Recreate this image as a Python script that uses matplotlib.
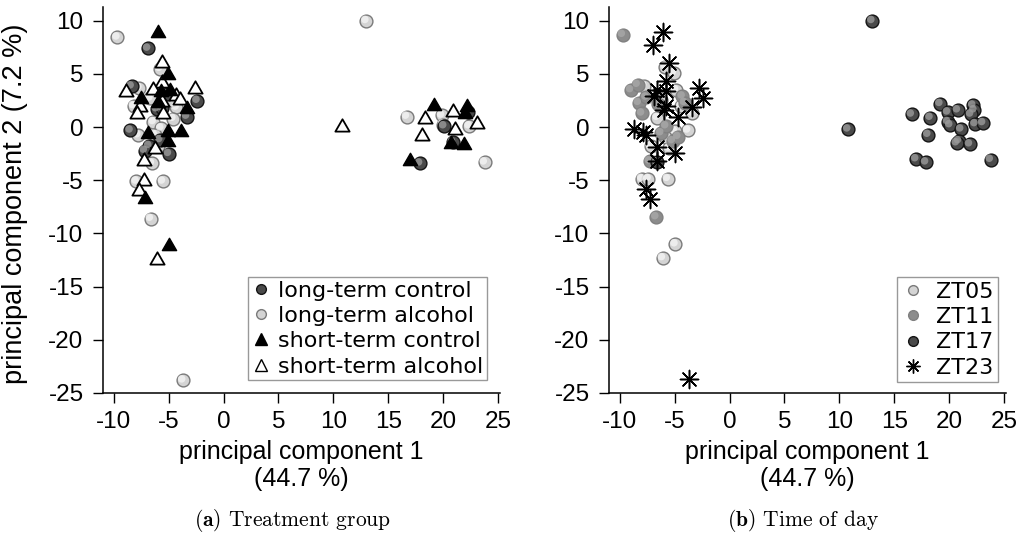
import numpy as np
import matplotlib
matplotlib.use("Agg")
import matplotlib.pyplot as plt
from matplotlib.lines import Line2D
from matplotlib.path import Path
from matplotlib.transforms import offset_copy

plt.rcParams['font.family'] = ['Liberation Sans', 'DejaVu Sans']
plt.rcParams['axes.unicode_minus'] = False
plt.rcParams['mathtext.fontset'] = 'cm'

### data ###

# (a) treatment group
lt_ctrl_x = [-6.9, -8.4, -2.4, -5.1, -6.1, -5.6, -3.35, -8.5, -5.8, -6.8, -7.2, -5.0, 20.1, 22.3, 20.9, 17.9]
lt_ctrl_y = [7.4, 3.85, 2.5, 3.1, 1.7, 1.8, 1.0, -0.3, -1.2, -1.75, -2.2, -2.5, 0.1, 1.4, -1.4, -3.4]

lt_alc_x = [-9.7, -5.8, -7.7, -6.7, -8.2, -4.3, -4.6, -6.4, -5.7, -7.8, -6.3, -5.95, -6.55, -7.95, -5.55,
            -6.65, -3.7, -4.8, 16.7, 19.9, 20.0, 22.4, 23.8, 13.0]
lt_alc_y = [8.45, 5.5, 3.7, 2.7, 2.0, 1.85, 0.8, 0.5, -0.1, -0.75, -0.7, -1.8, -3.4, -5.1, -5.1,
            -8.6, -23.8, 2.6, 1.0, 1.1, 0.25, 0.1, -3.3, 10.0]

st_ctrl_x = [-5.95, -5.05, -7.5, -5.7, -4.9, -6.0, -3.35, -6.9, -5.05, -3.9, -5.05, -7.15, -4.95,
             19.2, 22.2, 22.0, 20.7, 21.9, 17.0]
st_ctrl_y = [8.9, 4.9, 2.65, 3.3, 3.4, 2.3, 1.7, -0.6, -0.5, -0.5, -1.4, -6.8, -11.2,
             2.0, 1.9, 1.2, -1.6, -1.7, -3.15]

st_alc_x = [-5.65, -5.65, -8.9, -2.6, -6.4, -4.3, -7.6, -5.65, -4.0, -7.9, -5.5, -6.25, -7.3, -7.3,
            -7.7, -6.05, 18.35, 20.9, 23.1, 21.1, 18.1, 10.8]
st_alc_y = [6.0, 4.15, 3.35, 3.6, 3.45, 2.9, 1.9, 2.4, 2.6, 1.2, 1.2, -2.1, -3.2, -5.1,
            -6.0, -12.5, 0.8, 1.4, 0.3, -0.3, -0.8, 0.0]

# (b) time of day
zt05_x = [-5.85, -5.1, -7.8, -4.9, -6.6, -3.8, -5.0, -7.2, -5.5, -8.0, -7.4, -5.65, -4.95, -6.1,
          -3.4, -4.4, -5.9, -6.3]
zt05_y = [5.7, 5.1, 3.9, 3.5, 0.9, -0.3, -0.4, -1.8, -2.0, -4.85, -4.85, -4.85, -11.0, -12.3,
          1.3, 2.0, -0.9, 2.6]

zt11_x = [-9.75, -9.0, -8.4, -8.3, -7.6, -8.0, -4.3, -4.1, -6.25, -5.8, -7.3, -6.7, -5.2, -6.5, -4.7]
zt11_y = [8.7, 3.5, 4.0, 2.3, 2.8, 1.3, 2.9, 2.3, -0.55, 0.1, -3.2, -8.45, -1.3, 2.2, -0.9]

zt17_x = [19.2, 16.6, 18.3, 19.9, 20.8, 19.9, 20.1, 22.2, 22.3, 22.0, 22.4, 23.1, 21.1, 18.1,
          20.9, 20.7, 21.9, 17.0, 17.9, 23.8, 10.8, 13.0, -6.65]
zt17_y = [2.2, 1.2, 0.9, 1.4, 1.6, 0.5, 0.2, 2.05, 1.6, 1.2, 0.3, 0.4, -0.2, -0.7,
          -1.3, -1.5, -1.6, -3.0, -3.3, -3.05, -0.2, 10.0, -3.3]

zt23_x = [-6.1, -7.0, -5.55, -5.8, -6.6, -6.9, -5.8, -2.75, -2.45, -3.4, -5.8, -5.95, -4.7,
          -8.7, -7.9, -7.6, -6.6, -5.0, -6.65, -7.6, -7.25, -3.75]
zt23_y = [8.95, 7.7, 6.0, 4.3, 3.5, 2.9, 3.4, 3.7, 2.75, 1.9, 1.96, 1.65, 0.96,
          -0.2, -0.5, -0.7, -1.9, -2.4, -3.2, -5.8, -6.75, -23.7]

xticks = [-10, -5, 0, 5, 10, 15, 20, 25]
yticks = [10, 5, 0, -5, -10, -15, -20, -25]

# colours of the shaded balls: (face, edge, highlight)
DARK = ('#4a4a4a', '#141414', '#9a9a9a')
LIGHT = ('#d4d4d4', '#7a7a7a', '#f4f4f4')
MID = ('#8c8c8c', '#808080', '#a8a8a8')

tri = Path([(0, 1.155), (-1, -0.577), (1, -0.577), (0, 1.155)],
           [Path.MOVETO, Path.LINETO, Path.LINETO, Path.CLOSEPOLY])

fig = plt.figure(figsize=(10.2, 5.51), dpi=100)
axA = fig.add_axes([103/1020, 1 - 393/551, 397/1020, 386/551])
axB = fig.add_axes([609/1020, 1 - 393/551, 397/1020, 386/551])


def balls(ax, xs, ys, col, s=85, z=3):
    face, edge, hi = col
    ax.scatter(xs, ys, s=s, c=face, edgecolors=edge, linewidths=1.0, zorder=z)
    tr = offset_copy(ax.transData, fig=fig, x=-1.0, y=1.0, units='points')
    ax.scatter(xs, ys, s=s*0.35, c=hi, edgecolors='none', zorder=z, transform=tr, alpha=0.8)


def style(ax):
    ax.set_xlim(-11, 25.2)
    ax.set_ylim(-25, 11.3)
    for side in ['top', 'right']:
        ax.spines[side].set_visible(False)
    ax.spines['left'].set_linewidth(1.1)
    ax.spines['bottom'].set_linewidth(1.1)
    ax.set_xticks(xticks)
    ax.set_yticks(yticks)
    ax.tick_params(direction='out', length=7, width=1.0, labelsize=17.5)
    ax.tick_params(axis='x', pad=6)
    ax.tick_params(axis='y', pad=7)
    ax.set_xlabel('principal component 1\n(44.7 %)', fontsize=18, linespacing=1.15, labelpad=5)


# panel (a)
balls(axA, lt_alc_x, lt_alc_y, LIGHT, z=3)
balls(axA, lt_ctrl_x, lt_ctrl_y, DARK, z=4)
axA.scatter(st_alc_x, st_alc_y, s=140, marker=tri, facecolors='white', edgecolors='black', linewidths=1.3, zorder=5)
axA.scatter(st_ctrl_x, st_ctrl_y, s=140, marker=tri, facecolors='black', edgecolors='black', linewidths=1.0, zorder=6)
style(axA)
axA.set_ylabel('principal component 2 (7.2 %)', fontsize=19.5)
axA.yaxis.set_label_coords(-0.19, 0.49)

hA = [Line2D([], [], ls='', marker='o', ms=7, mfc=DARK[0], mec=DARK[1]),
      Line2D([], [], ls='', marker='o', ms=7, mfc=LIGHT[0], mec=LIGHT[1]),
      Line2D([], [], ls='', marker='^', ms=8, mfc='black', mec='black'),
      Line2D([], [], ls='', marker='^', ms=8, mfc='white', mec='black')]
legA = axA.legend(hA, ['long-term control', 'long-term alcohol', 'short-term control', 'short-term alcohol'],
                  loc='lower right', bbox_to_anchor=(0.967, 0.034), frameon=True,
                  fancybox=False, edgecolor='#808080', handlelength=0.8, handletextpad=0.4,
                  labelspacing=0.24, borderpad=0.15, borderaxespad=0,
                  prop={'family': 'DejaVu Sans', 'size': 16})

# panel (b)
balls(axB, zt05_x, zt05_y, LIGHT, z=3)
balls(axB, zt11_x, zt11_y, MID, z=4)
balls(axB, zt17_x, zt17_y, DARK, z=5)
axB.scatter(zt23_x, zt23_y, s=170, marker=(8, 2, 0), color='black', linewidths=1.1, zorder=6)
style(axB)

hB = [Line2D([], [], ls='', marker='o', ms=7, mfc=LIGHT[0], mec=LIGHT[1]),
      Line2D([], [], ls='', marker='o', ms=7, mfc=MID[0], mec=MID[1]),
      Line2D([], [], ls='', marker='o', ms=7, mfc=DARK[0], mec=DARK[1]),
      Line2D([], [], ls='', marker=(8, 2, 0), ms=10, color='black', mew=1.0)]
legB = axB.legend(hB, ['ZT05', 'ZT11', 'ZT17', 'ZT23'],
                  loc='lower right', bbox_to_anchor=(0.98, 0.028), frameon=True,
                  fancybox=False, edgecolor='#808080', handlelength=1.0, handletextpad=0.55,
                  labelspacing=0.24, borderpad=0.2, borderaxespad=0,
                  prop={'family': 'DejaVu Sans', 'size': 16})
for leg in (legA, legB):
    leg.get_frame().set_linewidth(1.0)

# captions
fig.text(0.287, 0.056, r'$\mathbf{(a)}$ Treatment group', family='cmr10', fontsize=15.5, ha='center', va='center')
fig.text(0.787, 0.056, r'$\mathbf{(b)}$ Time of day', family='cmr10', fontsize=15.5, ha='center', va='center')

fig.savefig('out.png', dpi=100)
